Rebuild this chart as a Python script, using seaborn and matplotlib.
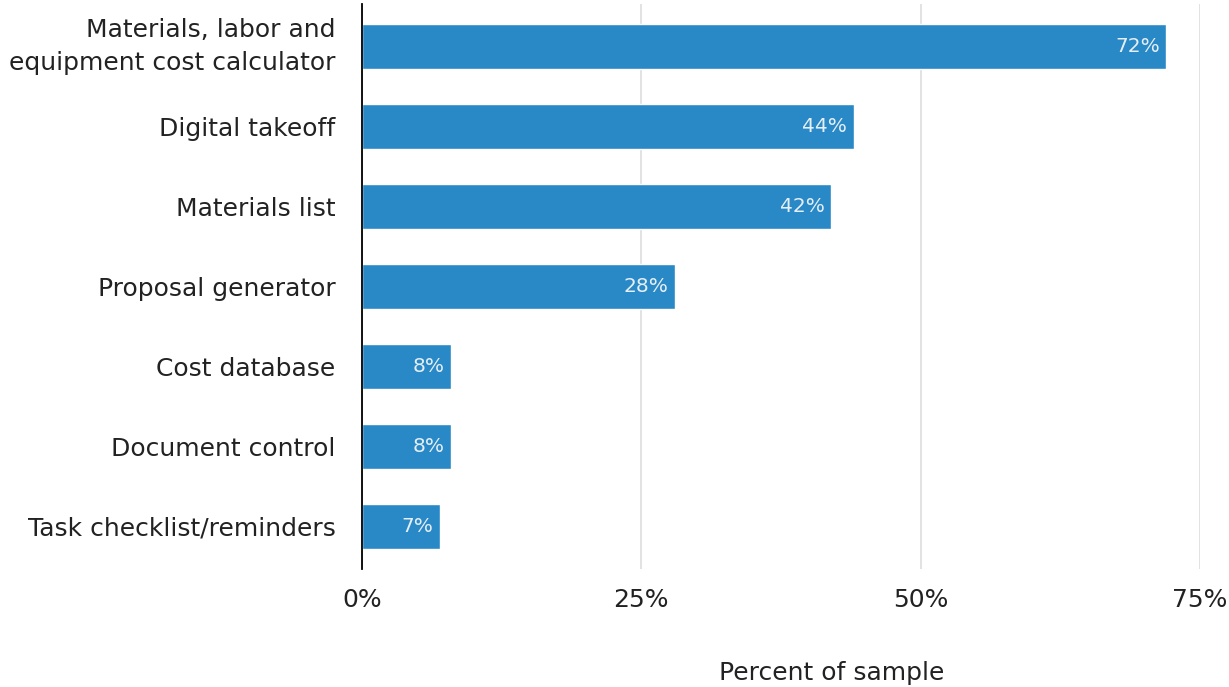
import pandas as pd
import seaborn as sns
import matplotlib.pyplot as plt
from matplotlib.ticker import FuncFormatter

features = ['Materials, labor and\nequipment cost calculator', 'Digital takeoff',
            'Materials list', 'Proposal generator', 'Cost database',
            'Document control', 'Task checklist/reminders']
percents = [72, 44, 42, 28, 8, 8, 7]

df = pd.DataFrame({'Feature': features, 'Percent': percents})

sns.set_style('white')
plt.rcParams['font.family'] = ['DejaVu Sans']

fig = plt.figure(figsize=(12.29, 6.87), dpi=100)
ax = fig.add_axes([0.2946, 0.172, 0.6818, 0.822])

sns.barplot(data=df, x='Percent', y='Feature', color='#2889c6', saturation=1,
            width=0.56, ax=ax)

for p, v in zip(ax.patches, percents):
    ax.text(p.get_width() - 0.6, p.get_y() + p.get_height() / 2, f'{v}%',
            ha='right', va='center', color='#e6eef6', fontsize=14.5)

ax.set_xlim(0, 75)
ax.set_ylim(6.53, -0.53)
ax.set_xticks([0, 25, 50, 75])
ax.xaxis.set_major_formatter(FuncFormatter(lambda x, pos: f'{x:.0f}%'))
ax.grid(axis='x', color='#dddddd', linewidth=1.2)
ax.set_axisbelow(True)
for s in ['top', 'right', 'bottom']:
    ax.spines[s].set_visible(False)
ax.spines['left'].set_color('black')
ax.spines['left'].set_linewidth(1.3)
ax.spines['left'].set_zorder(5)
ax.tick_params(length=0, labelsize=18, colors='#222222', pad=19)
ax.tick_params(axis='x', pad=14)
for lbl in ax.get_yticklabels():
    lbl.set_linespacing(1.45)
    if '\n' in lbl.get_text():
        lbl.set_va('center')
ax.set_xlabel('Percent of sample', fontsize=18, color='#222222')
ax.xaxis.set_label_coords(0.56, -0.163)
ax.set_ylabel('')

fig.savefig('out.png', dpi=100)
